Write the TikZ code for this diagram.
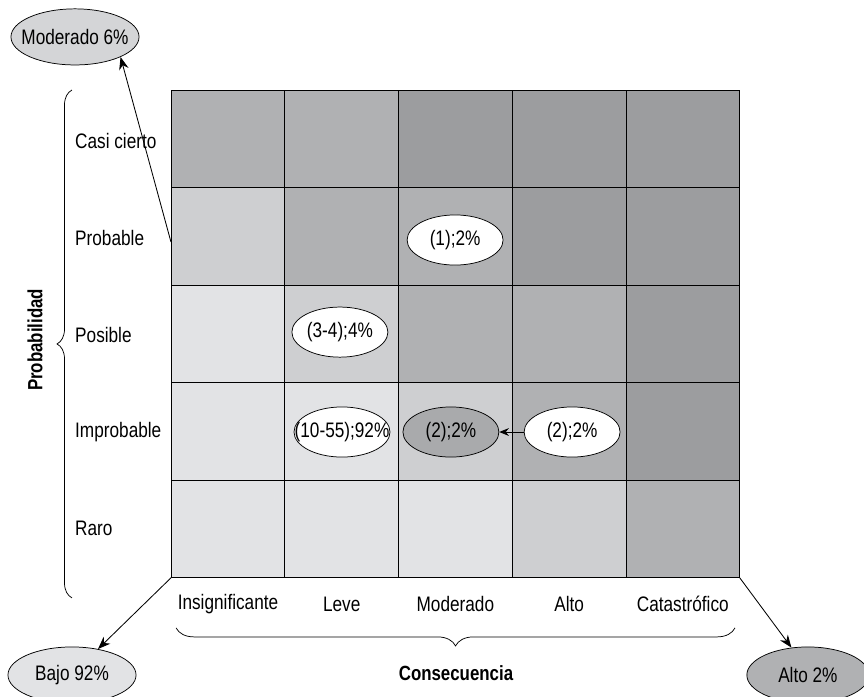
\documentclass[tikz,border=0pt]{standalone}
\usepackage{fontspec}
\setmainfont{Liberation Sans}[FakeStretch=0.82]
\usetikzlibrary{shapes.geometric,arrows.meta,decorations.pathreplacing}
\definecolor{riskE}{HTML}{E2E3E5}
\definecolor{riskD}{HTML}{CECFD1}
\definecolor{riskB}{HTML}{B0B1B3}
\definecolor{riskC}{HTML}{9C9D9F}
\definecolor{riskG}{HTML}{A9AAAC}
\definecolor{riskM}{HTML}{D4D5D7}

\begin{document}
\begin{tikzpicture}[cell/.style={draw, line width=0.8pt, rectangle, minimum width=3.79cm,
                    minimum height=3.25cm, inner sep=0pt, outer sep=0pt},
                    tag/.style={draw, line width=0.7pt, ellipse, minimum width=3.2cm,
                    minimum height=1.67cm, inner xsep=-0.8cm, font=\fontsize{19.9}{22}\selectfont},
                    total/.style={tag, minimum width=4.27cm, minimum height=1.87cm},
                    rowname/.style={anchor=west, inner sep=0pt, font=\fontsize{19.9}{22}\selectfont},
                    colname/.style={font=\fontsize{19.9}{22}\selectfont},
                    axisname/.style={font=\bfseries\fontsize{19.5}{22}\selectfont},
                    pointer/.style={-{Stealth[length=4.2mm, width=3.2mm]}, line width=0.8pt}]
\useasboundingbox (0,0) rectangle (28.8,-23.2);
% matrix cells, row by row
\node[cell, fill=riskB] (c11) at (7.60,-4.63) {};
\node[cell, fill=riskB] (c12) at (11.39,-4.63) {};
\node[cell, fill=riskC] (c13) at (15.18,-4.63) {};
\node[cell, fill=riskC] (c14) at (18.97,-4.63) {};
\node[cell, fill=riskC] (c15) at (22.76,-4.63) {};
\node[cell, fill=riskD] (c21) at (7.60,-7.88) {};
\node[cell, fill=riskB] (c22) at (11.39,-7.88) {};
\node[cell, fill=riskB] (c23) at (15.18,-7.88) {};
\node[cell, fill=riskC] (c24) at (18.97,-7.88) {};
\node[cell, fill=riskC] (c25) at (22.76,-7.88) {};
\node[cell, fill=riskE] (c31) at (7.60,-11.13) {};
\node[cell, fill=riskD] (c32) at (11.39,-11.13) {};
\node[cell, fill=riskB] (c33) at (15.18,-11.13) {};
\node[cell, fill=riskB] (c34) at (18.97,-11.13) {};
\node[cell, fill=riskC] (c35) at (22.76,-11.13) {};
\node[cell, fill=riskE] (c41) at (7.60,-14.38) {};
\node[cell, fill=riskE] (c42) at (11.39,-14.38) {};
\node[cell, fill=riskD] (c43) at (15.18,-14.38) {};
\node[cell, fill=riskB] (c44) at (18.97,-14.38) {};
\node[cell, fill=riskC] (c45) at (22.76,-14.38) {};
\node[cell, fill=riskE] (c51) at (7.60,-17.63) {};
\node[cell, fill=riskE] (c52) at (11.39,-17.63) {};
\node[cell, fill=riskE] (c53) at (15.18,-17.63) {};
\node[cell, fill=riskD] (c54) at (18.97,-17.63) {};
\node[cell, fill=riskB] (c55) at (22.76,-17.63) {};
\draw[line width=1.1pt] (c11.north west) rectangle (c55.south east);
% row and column names
\node[rowname] (rcasi) at (2.50,-4.70) {Casi cierto};
\node[rowname] (rprob) at (2.50,-7.92) {Probable};
\node[rowname] (rposi) at (2.50,-11.17) {Posible};
\node[rowname] (rimpr) at (2.50,-14.40) {Improbable};
\node[rowname] (rraro) at (2.50,-17.60) {Raro};
\node[colname] (kins) at (7.60,-20.13) {Insignificante};
\node[colname] (klev) at (11.39,-20.13) {Leve};
\node[colname] (kmod) at (15.18,-20.13) {Moderado};
\node[colname] (kalt) at (18.97,-20.13) {Alto};
\node[colname] (kcat) at (22.76,-20.13) {Catastrófico};
% braces and axis names
\draw[line width=0.7pt, decorate, decoration={brace, amplitude=0.5cm}]
  (2.40,-19.93) -- (2.40,-3.00);
\draw[line width=0.7pt, decorate, decoration={brace, amplitude=0.6cm}]
  (24.50,-20.93) -- (5.87,-20.93);
\node[axisname, rotate=90] (yname) at (1.17,-11.33) {Probabilidad};
\node[axisname] (xname) at (15.20,-22.43) {Consecuencia};
% risks placed in the matrix
\node[tag, fill=white] (e1) at (15.17,-8.00) {(1);2\%};
\node[tag, fill=white] (e2) at (11.33,-11.07) {(3-4);4\%};
\node[tag, fill=white] (e3) at (11.40,-14.40) {(10-55);92\%};
\node[tag, fill=riskG] (e4) at (15.03,-14.40) {(2);2\%};
\node[tag, fill=white] (e5) at (19.07,-14.40) {(2);2\%};
\draw[-{Stealth[length=3.2mm, width=2.6mm]}, line width=0.8pt] (e5) -- (e4);
% totals by level
\node[total, fill=riskM] (mod) at (2.50,-1.23) {Moderado 6\%};
\node[total, fill=riskE] (bajo) at (2.40,-22.50) {Bajo 92\%};
\node[total, fill=riskB, minimum width=4.07cm] (alto) at (26.93,-22.50) {Alto 2\%};
\coordinate (pstart) at (5.70,-8.07);
\draw[pointer] (pstart) -- (mod.south east);
\draw[pointer] (c51.south west) -- (bajo.45);
\draw[pointer] (c55.south east) -- (alto.121);
\end{tikzpicture}
\end{document}
